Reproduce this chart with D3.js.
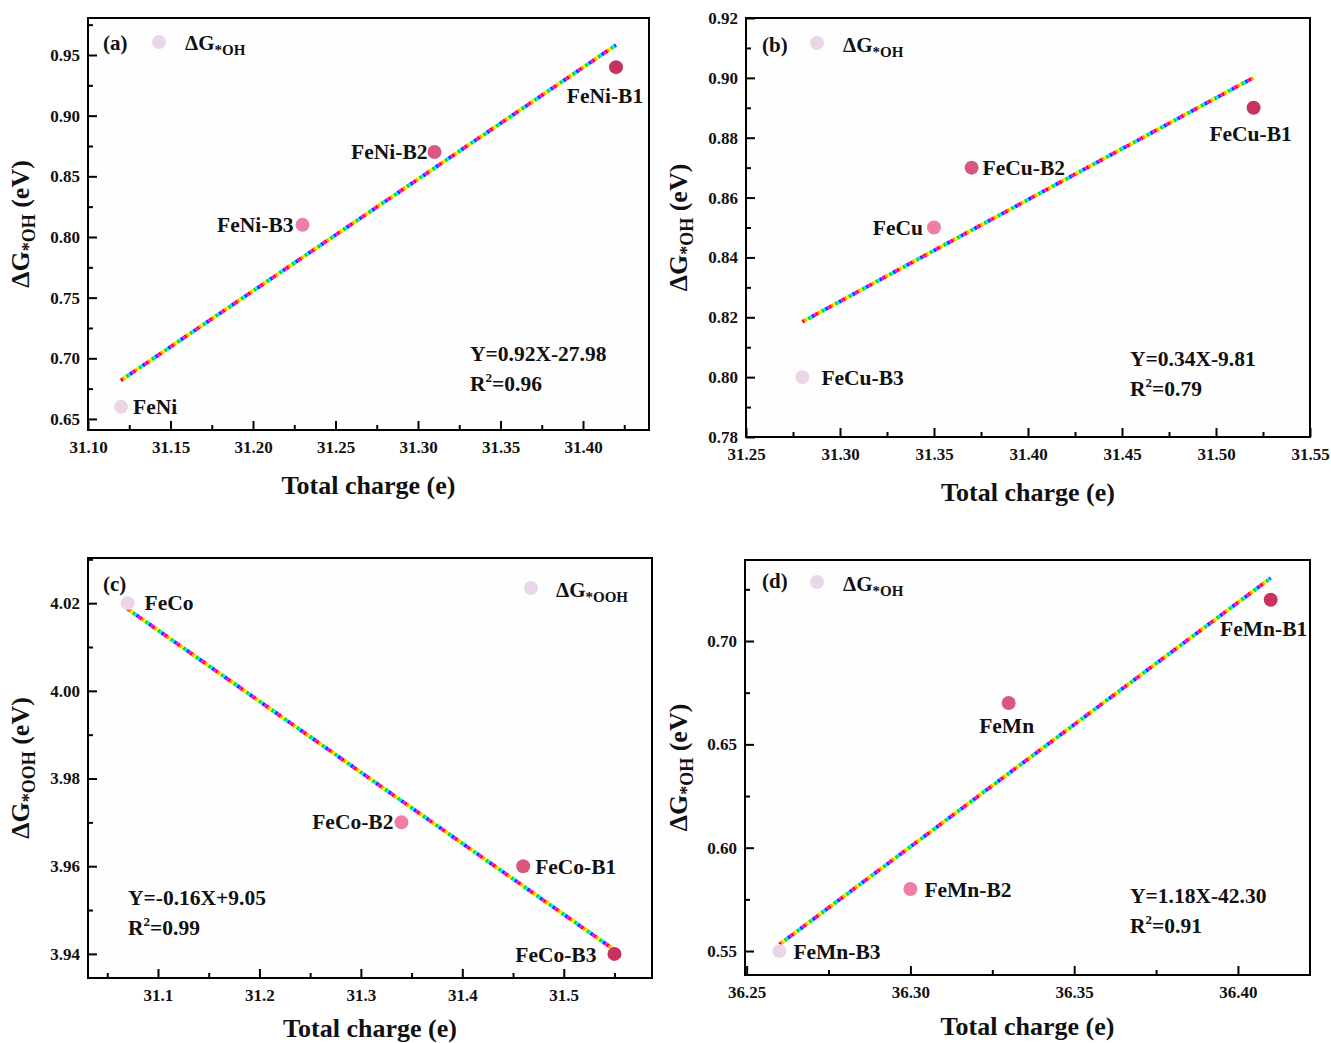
<!DOCTYPE html>
<html><head><meta charset="utf-8">
<script src="https://cdn.jsdelivr.net/npm/d3@7"></script>
<style>
body{margin:0;background:#fff;}
svg{display:block;font-family:"Liberation Serif","Times New Roman",serif;font-weight:bold;}
</style></head>
<body><svg id="c" width="1331" height="1043"></svg>
<script>
// ---- data ----
const namesA = ["FeNi","FeNi-B3","FeNi-B2","FeNi-B1"];
const xA = [31.12,31.23,31.31,31.42];
const yA = [0.66,0.81,0.87,0.94];
const namesB = ["FeCu-B3","FeCu","FeCu-B2","FeCu-B1"];
const xB = [31.28,31.35,31.37,31.52];
const yB = [0.80,0.85,0.87,0.89];
const namesC = ["FeCo","FeCo-B2","FeCo-B1","FeCo-B3"];
const xC = [31.07,31.34,31.46,31.55];
const yC = [4.02,3.97,3.96,3.94];
const namesD = ["FeMn-B3","FeMn-B2","FeMn","FeMn-B1"];
const xD = [36.26,36.30,36.33,36.41];
const yD = [0.55,0.58,0.67,0.72];
const eqA = ["Y=0.92X-27.98","0.96"];
const eqB = ["Y=0.34X-9.81","0.79"];
const eqC = ["Y=-0.16X+9.05","0.99"];
const eqD = ["Y=1.18X-42.30","0.91"];
const xTicksA = [31.10,31.15,31.20,31.25,31.30,31.35,31.40];
const yTicksA = [0.65,0.70,0.75,0.80,0.85,0.90,0.95];
const xTicksB = [31.25,31.30,31.35,31.40,31.45,31.50,31.55];
const yTicksB = [0.78,0.80,0.82,0.84,0.86,0.88,0.90,0.92];
const xTicksC = [31.1,31.2,31.3,31.4,31.5];
const yTicksC = [3.94,3.96,3.98,4.00,4.02];
const xTicksD = [36.25,36.30,36.35,36.40];
const yTicksD = [0.55,0.60,0.65,0.70];

// ---- styles / layout ----
const pointColors = ["#ead6e6","#ef7da7","#d9587f","#c8325e"];
const rainbow = ["#ff0000","#ff9900","#ffee00","#00dd00","#00e5ff","#0033ff","#ff00ff"];
const panels = [
  {tag:"(a)", names:namesA, xs:xA, ys:yA, eq:eqA, xt:xTicksA, yt:yTicksA, xf:".2f", yf:".2f",
   box:[88,18,649,430], xd:[31.10,31.44], yd:[0.6409,0.9805], xMinor:0.025, yMinor:0.025, sub:"*OH",
   lab:[[12,7,"start"],[-9,7,"end"],[-7,7,"end"],[-11,36,"middle"]], eqPos:[470,361],
   leg:[103,50,159,42,185,50], ytx:29, xtY:494},
  {tag:"(b)", names:namesB, xs:xB, ys:yB, eq:eqB, xt:xTicksB, yt:yTicksB, xf:".2f", yf:".2f",
   box:[746,18,1310,437], xd:[31.25,31.55], yd:[0.78,0.92], xMinor:0.025, yMinor:0.01, sub:"*OH",
   lab:[[19,8,"start"],[-11,7,"end"],[11,7,"start"],[-3,33,"middle"]], eqPos:[1130,366],
   leg:[762,52,817,43,843,52], ytx:687, xtY:501},
  {tag:"(c)", names:namesC, xs:xC, ys:yC, eq:eqC, xt:xTicksC, yt:yTicksC, xf:".1f", yf:".2f",
   box:[88,558,652,978], xd:[31.031,31.587], yd:[3.9345,4.0303], xMinor:0.05, yMinor:0.01, sub:"*OOH",
   lab:[[17,7,"start"],[-8,7,"end"],[12,8,"start"],[-18,8,"end"]], eqPos:[128,905],
   leg:[103,591,531,588,556,597], ytx:29, xtY:1037},
  {tag:"(d)", names:namesD, xs:xD, ys:yD, eq:eqD, xt:xTicksD, yt:yTicksD, xf:".2f", yf:".2f",
   box:[745,560,1310,975], xd:[36.2495,36.422], yd:[0.5384,0.7392], xMinor:0.025, yMinor:0.025, sub:"*OH",
   lab:[[14,8,"start"],[14,8,"start"],[-2,30,"middle"],[-7,36,"middle"]], eqPos:[1130,903],
   leg:[762,588,817,582,843,591], ytx:687, xtY:1035}
];

const svg = d3.select("#c");

function fit(xs, ys){
  const mx=d3.mean(xs), my=d3.mean(ys);
  let sxy=0,sxx=0;
  xs.forEach((x,i)=>{sxy+=(x-mx)*(ys[i]-my); sxx+=(x-mx)*(x-mx);});
  const m=sxy/sxx; return [m, my-m*mx];
}

panels.forEach(p=>{
  const [L,T,R,B]=p.box;
  const x=d3.scaleLinear().domain(p.xd).range([L,R]);
  const y=d3.scaleLinear().domain(p.yd).range([B,T]);
  const g=svg.append("g");

  g.append("rect").attr("x",L).attr("y",T).attr("width",R-L).attr("height",B-T)
    .attr("fill","#fefefe").attr("stroke","#000").attr("stroke-width",2);

  const ax=d3.axisBottom(x).tickValues(p.xt).tickSize(-9).tickFormat(d3.format(p.xf)).tickPadding(11);
  const gx=g.append("g").attr("transform",`translate(0,${B})`).call(ax);
  gx.select(".domain").remove();
  gx.selectAll("line").attr("stroke","#000").attr("stroke-width",2);
  gx.selectAll("text").attr("font-size",17).attr("font-weight","bold").attr("fill","#111")
    .attr("font-family","Liberation Serif");
  const ay=d3.axisLeft(y).tickValues(p.yt).tickSize(-9).tickFormat(d3.format(p.yf)).tickPadding(8);
  const gy=g.append("g").attr("transform",`translate(${L},0)`).call(ay);
  gy.select(".domain").remove();
  gy.selectAll("line").attr("stroke","#000").attr("stroke-width",2);
  gy.selectAll("text").attr("font-size",17).attr("font-weight","bold").attr("fill","#111")
    .attr("font-family","Liberation Serif");

  const xmin2=[]; for(let k=-4;k<40;k++){const v=p.xt[0]+k*p.xMinor; if(v>p.xd[0]+1e-6&&v<p.xd[1]-1e-6&&!p.xt.some(t=>Math.abs(t-v)<1e-6)) xmin2.push(v);}
  g.append("g").attr("transform",`translate(0,${B})`)
    .call(d3.axisBottom(x).tickValues(xmin2).tickSize(-5).tickFormat(""))
    .call(s=>{s.select(".domain").remove(); s.selectAll("line").attr("stroke","#000").attr("stroke-width",2);});
  const ymin2=[]; for(let k=-4;k<40;k++){const v=p.yt[0]+k*p.yMinor; if(v>p.yd[0]+1e-6&&v<p.yd[1]-1e-6&&!p.yt.some(t=>Math.abs(t-v)<1e-6)) ymin2.push(v);}
  g.append("g").attr("transform",`translate(${L},0)`)
    .call(d3.axisLeft(y).tickValues(ymin2).tickSize(-5).tickFormat(""))
    .call(s=>{s.select(".domain").remove(); s.selectAll("line").attr("stroke","#000").attr("stroke-width",2);});

  // fit line (rainbow dotted)
  const [m,b]=fit(p.xs,p.ys);
  const x0=d3.min(p.xs), x1=d3.max(p.xs);
  rainbow.forEach((c,i)=>{
    g.append("line").attr("x1",x(x0)).attr("y1",y(m*x0+b)).attr("x2",x(x1)).attr("y2",y(m*x1+b))
      .attr("stroke",c).attr("stroke-width",3.8)
      .attr("stroke-dasharray",`2.2 ${2.2*(rainbow.length-1)}`).attr("stroke-dashoffset",-2.2*i);
  });

  const order=d3.range(p.xs.length).sort((a,b)=>p.xs[a]-p.xs[b]);
  p.xs.forEach((xv,i)=>{
    const rank=order.indexOf(i);
    g.append("circle").attr("cx",x(xv)).attr("cy",y(p.ys[i])).attr("r",7)
      .attr("fill",pointColors[rank]);
    const [dx,dy,anc]=p.lab[i];
    g.append("text").attr("x",x(xv)+dx).attr("y",y(p.ys[i])+dy).attr("text-anchor",anc)
      .attr("font-size",21.5).attr("fill","#111").text(p.names[i]);
  });

  g.append("text").attr("x",p.eqPos[0]).attr("y",p.eqPos[1]).attr("font-size",21.5).attr("fill","#111").text(p.eq[0]);
  const r2=g.append("text").attr("x",p.eqPos[0]).attr("y",p.eqPos[1]+30).attr("font-size",21.5).attr("fill","#111");
  r2.append("tspan").text("R");
  r2.append("tspan").attr("font-size",13).attr("dy",-9).text("2");
  r2.append("tspan").attr("dy",9).text("="+p.eq[1]);

  const [tx,ty,cx,cy,lx,ly]=p.leg;
  g.append("text").attr("x",tx).attr("y",ty).attr("font-size",21).attr("fill","#111").text(p.tag);
  g.append("circle").attr("cx",cx).attr("cy",cy).attr("r",7).attr("fill",pointColors[0]);
  const lt=g.append("text").attr("x",lx).attr("y",ly).attr("font-size",21).attr("fill","#111");
  lt.append("tspan").text("ΔG");
  lt.append("tspan").attr("font-size",15).attr("dy",5).text(p.sub);

  g.append("text").attr("x",(L+R)/2).attr("y",p.xtY).attr("text-anchor","middle")
    .attr("font-size",26).attr("fill","#111").text("Total charge (e)");
  const yt=g.append("text").attr("transform",`translate(${p.ytx},${(T+B)/2}) rotate(-90)`)
    .attr("text-anchor","middle").attr("font-size",26).attr("fill","#111");
  yt.append("tspan").text("ΔG");
  yt.append("tspan").attr("font-size",18).attr("dy",6).text(p.sub);
  yt.append("tspan").attr("dy",-6).text(" (eV)");
});
</script></body></html>
